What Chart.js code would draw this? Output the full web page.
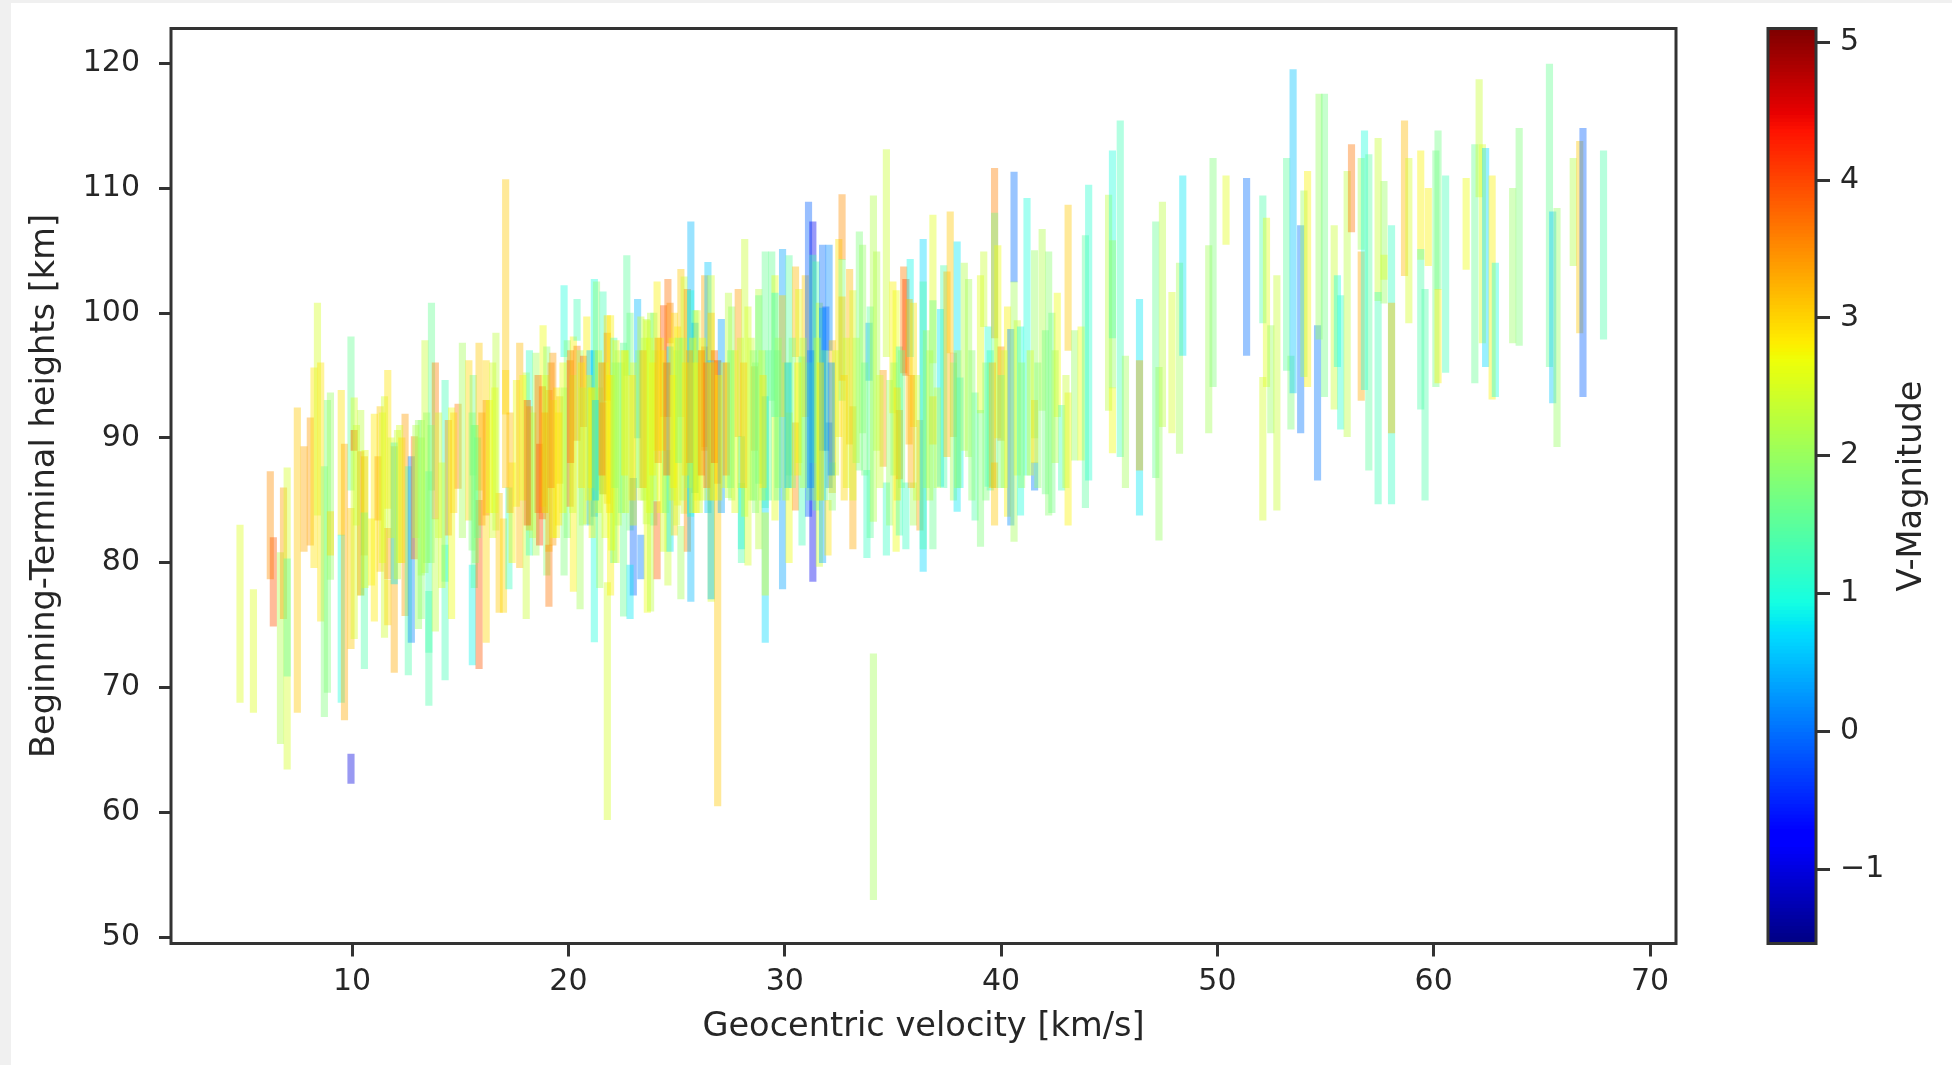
<!DOCTYPE html>
<html>
<head>
<meta charset="utf-8">
<title>Geocentric velocity vs. meteor heights</title>
<script src="https://cdn.jsdelivr.net/npm/chart.js@4"></script>
<style>
html,body{margin:0;padding:0;background:#f0f0f0;width:1952px;height:1065px;overflow:hidden}
#sheet{position:absolute;left:11px;top:3px;width:1941px;height:1062px;background:#fff}
canvas{position:absolute;top:0;filter:blur(0.5px)}
#main{left:0}
#bar{left:1700px}
</style>
</head>
<body>
<div id="sheet"></div>
<canvas id="main" width="1952" height="1065"></canvas>
<canvas id="bar" width="252" height="1065"></canvas>
<script>
const velocity = [
4.82,5.44,6.22,6.36,6.69,6.83,7,7,7.47,7.78,
8.07,8.24,8.4,8.55,8.72,8.86,9,9,9.5,9.5,
9.65,9.95,9.95,9.95,10.1,10.1,10.4,10.4,10.57,10.57,
11.03,11.2,10.9,11.3,11.5,11.65,11.65,11.65,11.95,11.95,
12.1,12.45,12.6,12.74,12.88,13.07,13.2,13.37,13.55,13.55,
13.67,13.85,13.85,14.3,14.3,14.45,14.6,14.9,15.1,15.4,
15.56,15.6,15.65,15.87,15.87,16.2,16.2,16.5,16.65,16.8,
17,17.1,17.1,17.25,17.6,17.75,18.05,18.2,18.2,18.5,
18.67,18.83,19,18.8,19.1,19.1,19.28,19.6,19.8,19.8,
19.95,20.08,20.23,20.4,20.4,20.54,20.7,20.85,21,21.2,
21.2,21.3,21.45,21.6,21.6,21.8,21.8,21.8,21.95,22.1,
22.2,22.55,22.7,22.85,23,22.85,23.2,23.35,23.35,23.65,
23.6,23.8,23.95,24.1,24.1,24.4,24.6,24.4,24.6,24.7,
24.7,24.9,25.05,25.2,25.2,25.35,25.5,25.66,25.65,25.85,
25.85,25.95,26.3,26.3,26.45,26.6,26.6,26.6,26.9,26.9,
27.07,27.4,27.55,27.85,28,28,28.15,28.3,28.6,28.8,
28.8,29.1,29.1,29.1,29.4,29.55,29.55,29.9,29.9,30.2,
30.2,30.5,30.5,30.65,30.8,30.95,31.1,31.3,31.3,31.45,
31.6,31.75,31.75,32.05,32.05,31.9,32,32.2,32.2,32.5,
32.65,32.65,32.65,33,33.15,33.15,33.45,33.6,33.8,33.9,
33.95,34.1,34.1,34.25,34.55,34.7,34.7,34.85,35,35.15,
35.3,35.3,35.5,35.6,35.6,35.8,35.75,35.95,35.95,36.25,
36.4,36.4,36.55,36.85,36.85,36.85,37.2,37.35,37.5,37.65,
37.8,37.8,37.97,38.1,38.3,38.5,38.8,39.05,39.05,39.2,
39.4,39.5,39.7,39.7,39.7,39.85,40,40.3,40.45,40.6,
40.6,40.75,40.9,41.2,41.55,41.55,41.55,41.9,42.2,42.05,
42.35,42.6,42.8,43.1,43.1,43.4,43.7,43.9,44.05,44.97,
45.15,45.15,45.15,45.51,45.75,46.4,46.4,47.15,47.3,47.46,
47.9,48.25,48.4,49.6,49.8,50.4,51.35,52.1,52.27,52.1,
52.47,52.75,53.2,53.4,53.5,53.85,54,54.17,54.63,54.7,
54.95,55.4,55.55,55.7,56,56.2,56.65,56.65,56.8,57,
57.43,57.43,57.7,57.7,58.05,58.05,58.65,58.85,59.4,59.75,
59.4,59.6,60.1,60.2,60.2,60.55,61.5,61.9,62.1,62.25,
62.4,62.7,62.85,63.65,63.95,65.35,65.5,65.7,66.45,66.75,
66.9,67.85,
10.2,10.6,11.4,11.8,12.2,12.95,13.2,13.45,13.65,14,
14.15,15.55,15.7,15.8,16.35,16.6,17.4,17.9,18.35,18.95,
19.3,19.45,19.75,20.2,20.65,20.95,21.1,21.4,21.7,22,
22.3,22.45,22.65,23,23.25,23.5,23.75,24,24.25,24.5,
24.8,25,25.3,25.55,25.75,26.05,26.2,26.7,27.2,27.7,
27.95,28.45,28.65,28.95,29.25,29.7,30.05,30.35,30.85,31.15,
31.5,31.85,32.35,32.85,33.3,34.4,35.05,35.4,36.1,36.7,
37.05,38,38.65,39.3,40.15,40.95,41.35,41.7,42.5,43,
18.1,18.6,18.9,19.2,19.55,20.1,20.6,21.05,21.25,21.55,
21.9,22.15,22.6,22.95,23.45,23.9,24.15,24.35,24.55,24.85,
25.1,25.4,25.6,25.9,26.15,26.4,26.55,26.75,26.95,27.3,
27.5,28.1,28.55,29,29.65,30.15,30.6,31.2,31.65,32.15,
32.75,33.7,35.2,35.85,39.6,40,17.3,16,14.7,12.3
];
const beginHeight = [
83,77.85,87.3,82,80.8,86,87.6,80.3,92.4,89.3,
91.6,95.6,100.8,96,87.7,93,93.6,84.1,93.8,82.2,
89.5,98.1,64.65,84.35,93.2,90.6,92.2,88.9,88.5,84,
91.9,88.5,83.5,92.5,93.3,95.4,82.75,78.6,89.3,89.6,
90.6,91.9,87.7,88.5,90.1,91.4,91.4,97.8,87.3,77.7,
100.8,96,83.5,94.6,81.4,91.4,92.4,92.7,97.6,96.2,
79.8,95,91,85,97.6,96.2,93,96,98.4,85.55,
83.5,110.7,95.4,86,94.6,97.6,95.2,97,92.5,96.8,
89.5,99,97.3,94.1,81.4,93.8,96.8,93.3,102.2,94,
97.8,96.2,98.1,101.1,97.35,97,96.55,99.7,97,102.7,
97,102.5,94,101.7,92.8,78.4,99.8,98.4,99.8,98,
97.8,97.6,104.6,100,86.75,79.8,101.1,82.2,99.7,99.4,
99.5,100,100,102.5,84.9,100.6,102.7,91.7,89,100.8,
97.3,100,98.9,103.5,82.9,102.9,101.9,107.3,101.8,100.2,
99.2,100.2,103,97.3,104.06,103,100,96.2,96.2,96.2,
99.5,101.6,100.5,101.9,90.1,86.35,105.9,100.5,95.7,101.9,
101.4,104.9,93.3,84,104.9,103,101.6,105.1,101.4,104.6,
92,103.7,91.2,101.9,96.5,103,108.9,107.3,104.65,104.1,
100.8,105.45,100.4,105.45,91.2,100.5,85,97.8,88,105.9,
109.5,104.3,101.3,103.5,92.5,101.8,106.5,105.45,87.4,99.2,
100.5,109.4,72.7,104.9,95.4,113.1,86.4,94.6,102.5,101.8,
97.3,92.2,103.7,102.7,86.4,104.3,101.1,100.8,86.4,91.4,
105.9,102.5,98.6,107.85,101,93.3,100.3,103.8,103.3,108.1,
96.8,96,105.7,94.8,104,102.7,93.6,103,92.2,104.9,
98.9,97,111.6,108,88,105.4,97.3,100.5,98.7,111.3,
102.5,99.4,98.9,109.2,88,105,93,106.7,104.9,98.6,
100,101.6,92.6,108.65,93.6,98.6,98.9,106.2,110.25,109.45,
113,105.8,94,115.4,96.55,101.1,96.2,107.3,95.65,108.9,
101.65,104,111,105.4,112.4,111,110.8,109.4,107.6,94.85,
99,103,112.4,96.55,119.5,107,109.8,111.35,99,117.55,
117.55,107,103,101.4,111.35,113.5,112.4,104.9,114.6,112.7,
114,101.65,110.55,104.65,107,100.8,115.4,112.4,113,110,
105.1,101.9,113,114.6,101.9,111,110.8,113.5,118.7,113.5,
113.2,111,104,110,114.8,119.95,108.1,108.4,112.4,113.75,
114.8,113,
91,89,92,90,91,91,90,92,91,92,
88,92,91,90,93,94,88,95,92,95,
93,94,96,95,94,95,94,97,96,95,
97,96,97,96,97,98,98,97,98,96,
98,97,98,96,98,97,98,96,96,97,
98,98,96,97,97,98,96,98,98,96,
98,97,97,98,98,95,96,97,95,97,
94,97,97,96,97,96,97,96,97,95,
93,95,92,96,92,97,96,94,93,96,
95,96,97,95,97,96,98,97,96,95,
98,96,97,96,97,96,96,97,95,96,
97,96,97,95,97,96,96,97,96,96,
95,96,94,95,96,95,92,92,92,90
];
const endHeight = [
68.8,68,78.7,74.9,65.5,75.5,63.45,70.9,68,80.9,
81.4,79.6,83.8,75.3,67.65,69.6,78.65,80.6,82.2,68.8,
67.4,85.8,62.3,73.1,73.9,89,77.4,77.4,80.6,71.5,
75.3,83.4,78.2,79.3,74,84.35,78.7,75,71.2,78.3,
78.7,75.75,71,73.6,80.3,74.7,75.5,79.2,72.8,68.55,
85.8,83.5,74.5,78.5,70.6,82.2,75.5,85.95,82,83.4,
71.8,87,78,71.5,85.8,73.6,83.8,82,82.6,76,
76,86,91.9,77.9,84.5,79.6,75.5,80.6,82.6,80.6,
81.4,84.5,79,83.5,76.5,80.9,81.4,86.35,96.5,79,
82,84.5,77.7,97.8,89.8,76.3,90.9,83.1,83,73.65,
83.7,85.8,78,85.5,85.5,59.4,84.75,93,77.4,80,
80,75.7,95,82.6,77.4,75.5,90,78.7,85,76,
83.1,76.1,83,89,78.7,91.7,91.7,80.9,78.2,97.6,
80.9,82.2,84.6,91.7,77.1,83.95,80.9,76.9,83.7,85.6,
85.6,85,89.3,89,84,76.9,96.2,77.1,60.5,86.35,
84,85.2,85,90.1,81.1,80,83.7,79.8,89,81.1,
86.35,84.4,73.6,77.4,93,83.4,91.7,77.9,91.7,87,
80,96.5,84.2,88,81.4,91.7,83.7,78.5,88,84.2,
79.7,89,80,97,86,89,80.6,85.6,84.2,90.1,
104.3,93,94.6,89.5,81.1,85,87.4,90.4,80.4,94.6,
82,83.3,53,89,87.7,96.5,80.6,83,92,80.9,
82.2,86.7,95.2,95,81.1,96.5,89.5,90.9,83,82.6,
79.3,81.1,86,96,81.1,89.5,86.1,86,88.5,96.8,
90.1,85,84.1,86,89,88.5,83.4,92,81.3,98.9,
86.1,85.8,98,86,83,90,89.8,83.7,83,102.5,
81.7,87,83.8,87,85.8,90,88,92.2,83.8,85.5,
84,91.7,85.8,97,83,88.2,88.2,84.4,86.6,92.2,
98,94,88.8,88.5,86,83.8,87.4,86.8,81.8,90.9,
90.4,88.75,96.6,90.4,94.1,105.5,96.6,99.2,94.1,83.4,
90.4,84.2,95.4,90.7,93.6,90.4,94.9,94.1,86.6,97.9,
93.3,92.3,95.7,90.7,90.1,106.5,105.1,93,93.85,87.4,
101,84.7,100.8,102.7,84.7,90.4,103,99.2,104.3,103.8,
92.3,85,94.1,101.9,94.4,95.25,103.5,94.4,109.3,97.6,
95.7,93.1,93.3,97.6,97.4,95.7,92.8,89.3,103.8,98.4,
93.3,97.9,
83,78,80,82,80,82,79,80,80,82,
78,81,80,82,84,84,80,85,82,84,
82,82,84,84,83,85,82,84,82,81,
83,84,84,83,86,85,84,85,84,84,
85,83,85,86,84,84,85,85,86,84,
86,85,84,85,85,86,85,86,86,85,
85,85,87,86,88,86,87,86,85,85,
86,86,85,85,86,86,87,86,88,86,
83,84,84,86,83,88,86,86,85,87,
84,86,87,85,86,87,88,89,87,86,
88,87,88,84,87,86,85,88,85,87,
86,86,85,86,85,86,87,86,85,87,
85,87,85,86,86,86,84,83,84,80
];
const magnitude = [
2.55,2.55,3.5,3.9,2.2,3.4,2.5,1.5,3.1,3.3,
3.4,2.9,2.5,2.9,1.8,1.8,2,3,2.9,1,
3.3,1.6,-1,3.1,2.5,3.9,2.3,3.4,3.3,1.4,
2.85,3.3,2.8,3.1,2.45,2.9,3.4,3,3.3,0.8,
2.4,3.4,1.4,0.15,3.7,2,1.9,2.4,1.3,1.4,
1.6,3.6,2.3,1.3,1.3,3.5,2.7,3.6,2.1,3,
0.9,1.7,1.5,3.9,3.1,3,3.4,2.5,2.3,3.1,
3,3.1,3,1.25,2.7,3.2,2.4,1.2,3.2,2.1,
4,2.7,1.9,3.7,3.7,3.3,3.4,3.3,1,1.8,
1.8,3.7,2.8,1.3,3.6,2.1,3.9,2.8,0.6,1,
0.5,1.9,2.1,1.3,3.5,2.5,3,3.4,2.8,1.4,
2.6,1.6,1.5,1.7,-0.05,0.8,0.5,0.1,2.4,2.7,
2.3,2.3,1.7,2.8,3.8,3.9,3.7,2.5,2.4,3.5,
0.8,3,2.8,3.1,2.1,2.4,3.5,0.5,1,1.9,
0.5,2.5,3.3,3.6,0.6,2.5,3.1,0.5,3.1,3.7,
0.35,2.3,2,3.4,0.8,1.4,2.4,2.5,3.5,2.3,
1.6,1.6,0.7,2.6,1.6,2.6,1.1,0.35,3,1.5,
2.7,3.2,3.5,2.6,1.3,3.1,-0.1,-0.9,1.3,1.4,
2.4,0,0.4,0.2,0,-0.05,2.9,3.2,1.9,2.9,
3.5,1.8,3.1,3.2,3.3,2.5,1.8,2,1.2,0.4,
1.5,2.2,2.1,2.2,3.4,2.4,1.2,2,2.8,2.7,
1.3,3.5,3.6,4,1.2,0.9,3.2,2.9,2.1,3.4,
0.7,1.4,2,2.6,1.6,3,0.8,1.4,3.2,3.1,
3.4,2.1,0.8,0.9,2.2,2.1,1.4,2.6,1.8,2.4,
1.1,1.2,3.6,1.7,3.1,2.7,3.5,2.8,0.2,0,
2.1,2.4,1,1,0.1,2,3.1,2.2,1.9,1.7,
1.7,2.7,1.3,3.1,2.8,2,2.7,1.5,1.1,2.3,
1,2,2.7,1.3,2.1,0.8,3.3,1.6,2,2.3,
2.5,2.1,0.8,2.1,1.8,2.6,0,1.4,2.6,2.5,
2,2.4,1.5,1.8,0.55,0.05,2,2.8,0.05,2,
1.7,2.4,1,1.1,2.3,3.7,2.1,3.3,1,1.5,
2.4,1.3,2,2.5,1.2,3.2,3.2,2.5,2.8,2.8,
1.4,1.4,1.7,1.7,2.8,1.3,2.7,1.6,2.4,2.5,
0.7,2.8,1,2,1.8,1.6,0.6,2,2.2,3.1,
-0.1,1.4,
2.4,2.6,2.6,2.5,2.5,2.2,2.1,2,1.9,2.4,
2.5,1.8,1.9,1.7,2.7,2.6,2.8,2.7,2.3,2.5,
2.6,2.8,2.7,2.4,2,2.7,2.8,2.4,2.6,2.7,
2.3,1.8,2.5,2.6,1.9,2.3,2.6,2.5,2.7,1.8,
2.6,2.4,2.2,2,2.7,2.4,2.6,2.7,2.5,2.6,
2.4,2.4,1.9,2.3,1.6,2,2.2,1.8,2.2,1.5,
2.3,1.7,2.5,2.5,2.2,2.4,2,1.8,2.4,2.2,
2.3,2.2,1.9,1.8,2.4,2,2.5,1.9,2.2,2.4,
3.9,3.7,3.3,3.5,2.9,3.6,2.9,2.8,0.7,3.6,
2.9,2,2.8,2.9,3.2,2.8,3.4,2.9,3.8,2.8,
1.9,2.9,3.3,2.8,3.6,3.7,2.9,3.8,2.8,3.5,
1.8,3.1,1.9,2.9,1.7,0.6,2.8,0.2,2.9,0.3,
3,1.7,2.9,3.3,3.2,1.8,3.2,3.3,3,3
];
const velocityTicks = [10,20,30,40,50,60,70];
const heightTicks = [50,60,70,80,90,100,110,120];
const magnitudeTicks = [-1,0,1,2,3,4,5];
const magnitudeRange = [-1.54,5.1];

const INK = '#333333', TEXT = '#262626';
const TICK_FONT = {family:'"DejaVu Sans"', size:30};
const TITLE_FONT = {family:'"DejaVu Sans"', size:33.6};

function ramp(t, pts){
  for(let i=1;i<pts.length;i++){
    if(t<=pts[i][0]){
      const a=pts[i-1], b=pts[i];
      return a[1]+(b[1]-a[1])*(t-a[0])/(b[0]-a[0]);
    }
  }
  return pts[pts.length-1][1];
}
const R=[[0,0],[.35,0],[.66,1],[.89,1],[1,.5]];
const G=[[0,0],[.125,0],[.375,1],[.64,1],[.91,0],[1,0]];
const B=[[0,.5],[.11,1],[.34,1],[.65,0],[1,0]];
function jet(m, alpha){
  const t=Math.min(1,Math.max(0,(m-magnitudeRange[0])/(magnitudeRange[1]-magnitudeRange[0])));
  const c=p=>Math.round(255*ramp(t,p));
  return `rgba(${c(R)},${c(G)},${c(B)},${alpha})`;
}
const frame = {
  id:'frame',
  afterDraw(ch){
    const a=ch.chartArea, c=ch.ctx;
    c.save(); c.strokeStyle=INK; c.lineWidth=3;
    c.strokeRect(a.left,a.top,a.right-a.left,a.bottom-a.top);
    c.restore();
  }
};
function fixedTicks(list){ return s=>{ s.ticks=list.map(v=>({value:v})); }; }
const minusLabel = v=>String(v).replace('-','\u2212');
function noOverflow(s){ s.paddingTop=0; s.paddingBottom=0; s.paddingLeft=0; s.paddingRight=0; }

new Chart(document.getElementById('main'),{
  type:'bar',
  data:{datasets:[{
    data:velocity.map((v,i)=>({x:v,y:[endHeight[i],beginHeight[i]]})),
    backgroundColor:magnitude.map(m=>jet(m,0.4)),
    borderWidth:0,
    barThickness:6.5
  }]},
  plugins:[frame],
  options:{
    responsive:false,animation:false,
    layout:{padding:{left:0,right:276,top:28.5,bottom:0}},
    plugins:{legend:{display:false},tooltip:{enabled:false}},
    scales:{
      x:{
        type:'linear',offset:false,min:1.63,max:71.2,
        afterBuildTicks:fixedTicks(velocityTicks),
        afterFit:s=>{s.height=121.5;noOverflow(s);},
        grid:{offset:false,drawOnChartArea:false,drawTicks:true,tickLength:13,tickWidth:3,tickColor:INK},
        border:{display:false},
        ticks:{font:TICK_FONT,color:TEXT,padding:8,maxRotation:0,autoSkip:false,callback:minusLabel},
        title:{display:true,text:'Geocentric velocity [km/s]',font:TITLE_FONT,color:TEXT,padding:{top:0,bottom:18}}
      },
      y:{
        min:49.48,max:122.8,
        afterBuildTicks:fixedTicks(heightTicks),
        afterFit:s=>{s.width=171;noOverflow(s);},
        grid:{drawOnChartArea:false,drawTicks:true,tickLength:12,tickWidth:3,tickColor:INK},
        border:{display:false},
        ticks:{font:TICK_FONT,color:TEXT,padding:19,autoSkip:false,callback:minusLabel},
        title:{display:true,text:'Beginning-Terminal heights [km]',font:TITLE_FONT,color:TEXT,padding:{top:25,bottom:0}}
      }
    }
  }
});

const levels=[];
for(let i=0;i<256;i++){ levels.push(magnitudeRange[0]+(magnitudeRange[1]-magnitudeRange[0])*i/255); }
const step=(magnitudeRange[1]-magnitudeRange[0])/255;
const barTitle = {
  id:'barTitle',
  afterDraw(ch){
    const c=ch.ctx;
    c.save();
    c.translate(212,(ch.chartArea.top+ch.chartArea.bottom)/2);
    c.rotate(-Math.PI/2);
    c.textAlign='center'; c.textBaseline='middle';
    c.fillStyle=TEXT; c.font='33.6px "DejaVu Sans"';
    c.fillText('V-Magnitude',0,0);
    c.restore();
  }
};
new Chart(document.getElementById('bar'),{
  type:'bar',
  data:{datasets:[{
    data:levels.map(m=>({x:0.5,y:[m-step,m+step]})),
    backgroundColor:levels.map(m=>jet(m,1)),
    borderWidth:0,
    barThickness:48
  }]},
  plugins:[frame,barTitle],
  options:{
    responsive:false,animation:false,
    layout:{padding:{left:68,right:36,top:28.5,bottom:121.5}},
    plugins:{legend:{display:false},tooltip:{enabled:false}},
    scales:{
      x:{type:'linear',display:false,offset:false,min:0,max:1},
      y:{
        position:'right',min:magnitudeRange[0],max:magnitudeRange[1],
        afterBuildTicks:fixedTicks(magnitudeTicks),
        afterFit:s=>{s.width=100;noOverflow(s);},
        grid:{drawOnChartArea:false,drawTicks:true,tickLength:14,tickWidth:3,tickColor:INK},
        border:{display:false},
        ticks:{font:TICK_FONT,color:TEXT,padding:10,autoSkip:false,callback:minusLabel}
      }
    }
  }
});
</script>
</body>
</html>
